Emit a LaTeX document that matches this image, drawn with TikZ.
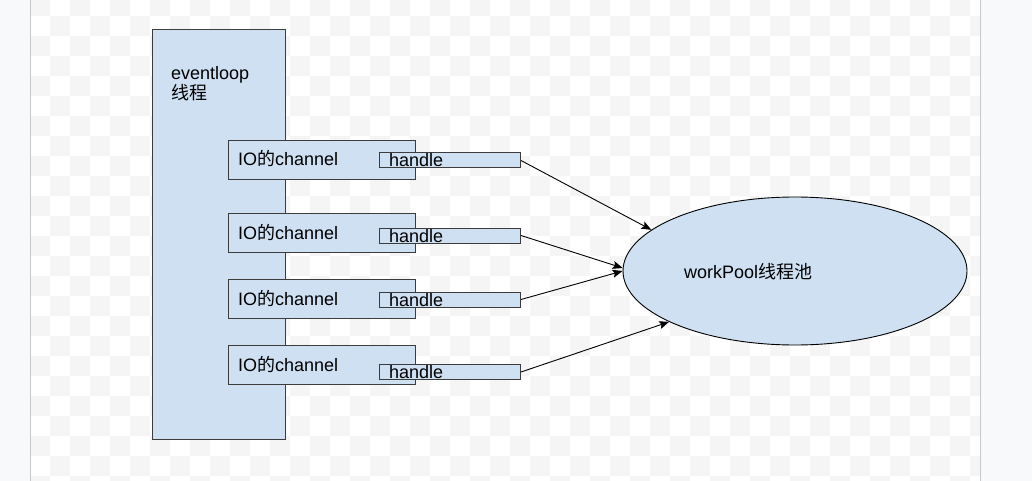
\documentclass[tikz,border=0pt]{standalone}
\usepackage{fontspec}
\setmainfont{Liberation Sans}
\newfontfamily\cjk{Noto Sans CJK SC}
\usetikzlibrary{arrows.meta,shapes.geometric}
\definecolor{boxfill}{RGB}{206,224,242}
\definecolor{boxline}{RGB}{60,60,60}
\definecolor{chk}{RGB}{245,245,245}
\definecolor{outerbg}{RGB}{248,249,250}
\definecolor{edgeln}{RGB}{200,200,200}
\begin{document}
\begin{tikzpicture}[x=1pt,y=-1pt,
  box/.style={draw=boxline, fill=boxfill, line width=1pt, inner sep=0pt, anchor=north west},
  lbl/.style={inner sep=0pt, anchor=base west, font=\fontsize{18}{20}\selectfont},
  conn/.style={draw=black, line width=0.9pt, -{Stealth[length=10pt,width=8pt,inset=2pt]}}]
\useasboundingbox (0,0) rectangle (1032,481);
\fill[outerbg] (0,0) rectangle (1032,481);
\fill[white] (30,0) rectangle (980,481);
\begin{scope}
\clip (30,0) rectangle (980,481);
\foreach \i in {0,...,24}{
  \foreach \j in {0,...,47}{
    \ifodd\numexpr\i+\j\relax\else
      \fill[chk] ({30+20*\j},{-4+20*\i}) rectangle ++(20,20);
    \fi
  }
}
\end{scope}
\draw[edgeln, line width=1pt] (30,0) -- (30,481);
\draw[edgeln, line width=1pt] (980,0) -- (980,481);

% eventloop thread
\node[box, minimum width=133, minimum height=410] (ev) at (152,29) {};
\node[lbl] (evt1) at (171,80) {eventloop};
\node[lbl] (evt2) at (171,100) {\cjk 线程};

% IO channels
\node[box, minimum width=187, minimum height=39] (io1) at (228,140) {};
\node[box, minimum width=187, minimum height=39] (io2) at (228,213) {};
\node[box, minimum width=187, minimum height=39] (io3) at (228,279) {};
\node[box, minimum width=187, minimum height=39] (io4) at (228,345) {};
\node[lbl] (iot1) at (238,166) {IO{\cjk 的}channel};
\node[lbl] (iot2) at (238,239) {IO{\cjk 的}channel};
\node[lbl] (iot3) at (238,305) {IO{\cjk 的}channel};
\node[lbl] (iot4) at (238,371) {IO{\cjk 的}channel};

% handles
\node[box, minimum width=141, minimum height=15] (h1) at (379,152.5) {};
\node[box, minimum width=141, minimum height=15] (h2) at (379,227.5) {};
\node[box, minimum width=141, minimum height=15] (h3) at (379,291.5) {};
\node[box, minimum width=141, minimum height=15] (h4) at (379,364) {};
\node[lbl] (ht1) at (389,167) {handle};
\node[lbl] (ht2) at (389,242) {handle};
\node[lbl] (ht3) at (389,306) {handle};
\node[lbl] (ht4) at (389,378) {handle};

% worker pool
\node[draw=black, fill=boxfill, line width=0.9pt, ellipse, minimum width=344, minimum height=148, inner sep=0pt] (wp) at (795,271) {};
\node[lbl] (wpt) at (684,278) {workPool{\cjk 线程池}};

% connectors
\draw[conn] (h1.east) -- (wp.164.7);
\draw[conn] (h2.east) -- (wp.179);
\draw[conn] (h3.east) -- (wp.180.5);
\draw[conn] (h4.east) -- (wp.202.9);
\end{tikzpicture}
\end{document}
